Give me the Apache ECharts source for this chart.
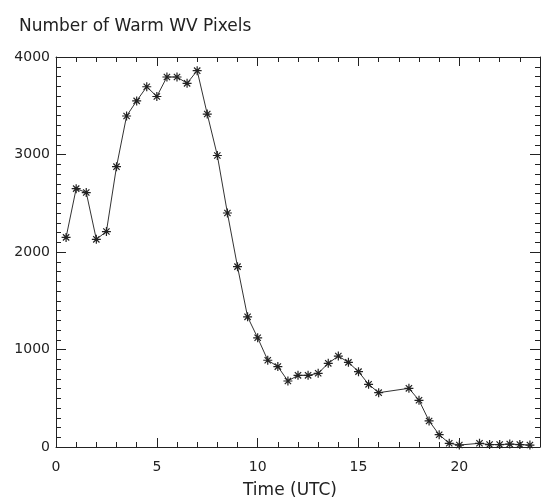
<!DOCTYPE html>
<html>
<head>
<meta charset="utf-8">
<script src="https://cdn.jsdelivr.net/npm/echarts@6/dist/echarts.min.js"></script>
<style>
html,body{margin:0;padding:0;background:#fff;}
#chart{width:545px;height:503px;}
</style>
</head>
<body>
<div id="chart"></div>
<script>
var times = [0.5,1,1.5,2,2.5,3,3.5,4,4.5,5,5.5,6,6.5,7,7.5,8,8.5,9,9.5,10,10.5,11,11.5,12,12.5,13,13.5,14,14.5,15,15.5,16,17.5,18,18.5,19,19.5,20,21,21.5,22,22.5,23,23.5];
var pixels = [2150,2650,2610,2130,2210,2875,3395,3550,3695,3595,3795,3795,3730,3860,3415,2990,2400,1850,1335,1120,890,825,677,735,735,756,858,933,868,773,643,557,602,479,267,126,38,20,38,25,25,30,25,20];
var titleText = 'Number of Warm WV Pixels';
var xTitle = 'Time (UTC)';

var font = 'DejaVu Sans';
var ink = '#222';
var data = times.map(function(t,i){return [t, pixels[i]];});
var asterisk = 'path://M0 -5L0 5M-5 0L5 0M-3.5 -3.5L3.5 3.5M-3.5 3.5L3.5 -3.5';

function xAx(pos, major, showLabel, showLine){
  return {
    type:'value', position:pos, min:0, max:24, interval: major ? 5 : 1,
    axisLine:{show:showLine, onZero:false, lineStyle:{color:ink,width:1}},
    axisTick:{show:true, inside:true, length: major ? 9 : 5, lineStyle:{color:ink,width:1}},
    axisLabel:{show:showLabel, margin:13, color:ink, fontFamily:font, fontSize:14,
      formatter:function(v){return v%5===0 ? String(v) : '';}},
    splitLine:{show:false}
  };
}
function yAx(pos, showLabel){
  return {
    type:'value', position:pos, min:0, max:4000, interval:1000,
    axisLine:{show:true, onZero:false, lineStyle:{color:ink,width:1}},
    axisTick:{show:true, inside:true, length:10, lineStyle:{color:ink,width:1}},
    minorTick:{show:true, splitNumber:10, length:5, lineStyle:{color:ink,width:1}},
    axisLabel:{show:showLabel, margin:6, color:ink, fontFamily:font, fontSize:14,
      formatter:function(v){return String(v);}},
    splitLine:{show:false}
  };
}

var chart = echarts.init(document.getElementById('chart'), null, {renderer:'canvas'});
chart.setOption({
  animation:false,
  backgroundColor:'#fff',
  title:{text:titleText, left:14, top:13, textStyle:{fontFamily:font, fontSize:17, fontWeight:'normal', color:ink}},
  grid:{left:56, right:5, top:57, bottom:56, containLabel:false},
  xAxis:[ xAx('bottom', true, true, true), xAx('bottom', false, false, false),
          xAx('top', true, false, true), xAx('top', false, false, false) ],
  yAxis:[ yAx('left', true), yAx('right', false) ],
  graphic:[{type:'text', left:243, top:482, style:{text:xTitle, font:'17px "DejaVu Sans"', fill:ink}}],
  series:[{
    type:'line', xAxisIndex:0, yAxisIndex:0, data:data,
    symbol:asterisk, symbolSize:9, showAllSymbol:true,
    lineStyle:{color:'#333', width:1},
    itemStyle:{color:'none', borderColor:'#222', borderWidth:1.2}
  }]
});
</script>
</body>
</html>
